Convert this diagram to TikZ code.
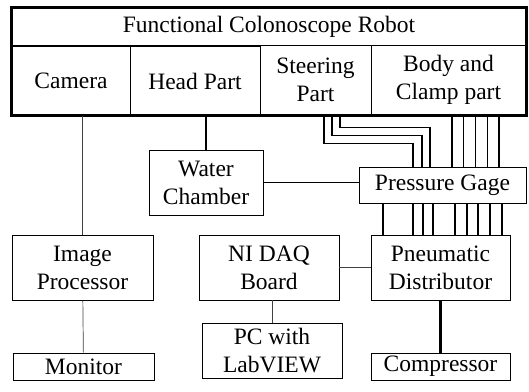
\documentclass[tikz,border=0pt]{standalone}
\usepackage{fontspec}
\setmainfont{Liberation Serif}
\usetikzlibrary{calc}

\begin{document}
\begin{tikzpicture}[x=1pt, y=-1pt,
  bloco/.style={draw, line width=0.9pt, rectangle, inner sep=0pt, align=center,
    font=\fontsize{23.5}{28}\selectfont},
  tubo/.style={line width=1.3pt},
  liga/.style={line width=0.7pt, black!75}]
\useasboundingbox (0,0) rectangle (529,391);
% Robo (caixa de cima)
\node[bloco, minimum width=514pt, minimum height=37pt] (titulo) at (269,26.5) {Functional Colonoscope Robot};
\node[bloco, minimum width=118pt, minimum height=70pt] (camera) at (71,81) {Camera};
\node[bloco, minimum width=130pt, minimum height=70pt] (cabeca) at (195,81) {Head Part};
\node[bloco, minimum width=111pt, minimum height=70pt] (direcao) at (315.5,80) {Steering\\Part};
\node[bloco, minimum width=155pt, minimum height=70pt] (corpo) at (448.5,80) {Body and\\Clamp part};
\draw[line width=2.2pt] (titulo.north west) rectangle (corpo.south east);
% Blocos de baixo
\node[bloco, minimum width=114pt, minimum height=65pt] (agua) at (206,182.5) {Water\\Chamber};
\node[bloco, minimum width=167pt, minimum height=36pt] (manometro) at (442.5,185) {Pressure Gage};
\node[bloco, minimum width=141pt, minimum height=65pt] (imagem) at (82.5,267.5) {Image\\Processor};
\node[bloco, minimum width=140pt, minimum height=65pt] (daq) at (269,267.5) {NI DAQ\\Board};
\node[bloco, minimum width=139pt, minimum height=65pt] (pneu) at (440.5,267.5) {Pneumatic\\Distributor};
\node[bloco, minimum width=140pt, minimum height=55pt] (pc) at (272,350.5) {PC with\\LabVIEW};
\node[bloco, minimum width=141pt, minimum height=27pt] (monitor) at (83.5,366.5) {Monitor};
\node[bloco, minimum width=139pt, minimum height=27pt] (compressor) at (440.5,366.5) {Compressor};
% Ligacoes simples
\draw[liga] (imagem.north) -- (imagem.north |- camera.south);
\draw[liga] (imagem) -- (monitor);
\draw[liga] (daq.south -| pc.north) -- (pc.north);
\draw[liga] (daq) -- (pneu);
\draw[tubo] (agua.north) -- (agua.north |- cabeca.south);
\draw[tubo] (agua.east) -- (agua.east -| manometro.west);
\draw[line width=2.2pt] (pneu) -- (compressor);
% Tubos da direcao: descem, viram para a direita e descem ate o manometro
\foreach \a/\b/\h in {8.5/-29.5/23, 16.5/-20.5/31, 24.5/-12.5/39}
  \draw[tubo] ($(direcao.south)+(\a,0)$) |- ($(manometro.north)+(\b,-\h)$) -- ($(manometro.north)+(\b,0)$);
% Tubos do corpo
\foreach \i in {0,...,4}
  \draw[tubo] ($(corpo.south)+(3.5+11.75*\i,0)$) -- ($(manometro.north)+(9.5+11.75*\i,0)$);
% Manometro -> distribuidor
\foreach \o in {-59.5,-29.5,-19.5,-9.5,12.5,24.5,35.5,47.5,59.5}
  \draw[tubo] ($(manometro.south)+(\o,0)$) -- ($(pneu.north)+(\o+2,0)$);
\end{tikzpicture}
\end{document}
